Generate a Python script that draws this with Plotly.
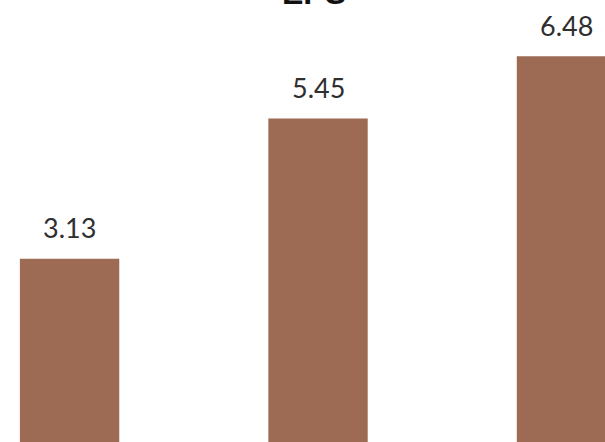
import plotly.graph_objects as go

categories = ["Year 1", "Year 2", "Year 3"]
eps_values = [3.13, 5.45, 6.48]
value_labels = ["3.13", "5.45", "6.48"]
title_text = "EPS"

BAR_COLOR = "#9D6B53"
TEXT_COLOR = "#2F2F2F"
FONT = "Lato, Open Sans, sans-serif"

fig = go.Figure()
fig.add_trace(go.Bar(
    x=categories,
    y=eps_values,
    marker=dict(color=BAR_COLOR, line=dict(width=0)),
    width=0.4,
    hoverinfo="skip",
))

for cat, val, lab in zip(categories, eps_values, value_labels):
    fig.add_annotation(
        x=cat, y=val, xref="x", yref="y",
        text=lab, showarrow=False,
        yanchor="middle", yshift=31,
        font=dict(family=FONT, size=27, color=TEXT_COLOR),
    )

fig.add_annotation(
    x=0.519, y=1, xref="paper", yref="paper",
    text=f"<b>{title_text}</b>", showarrow=False,
    yanchor="middle", yshift=7,
    font=dict(family="Liberation Sans, Arial, sans-serif", size=32, color="#111111"),
)

fig.update_layout(
    width=605, height=442,
    margin=dict(l=0, r=0, t=0, b=0),
    paper_bgcolor="white", plot_bgcolor="white",
    showlegend=False,
    hovermode=False,
    xaxis=dict(type="category", range=[-0.28, 2.155], visible=False),
    yaxis=dict(range=[0.1, 7.41], visible=False),
)

fig.write_html(
    "out.html",
    config={"displayModeBar": False, "staticPlot": True},
    post_script="document.body.style.margin='0';",
)
